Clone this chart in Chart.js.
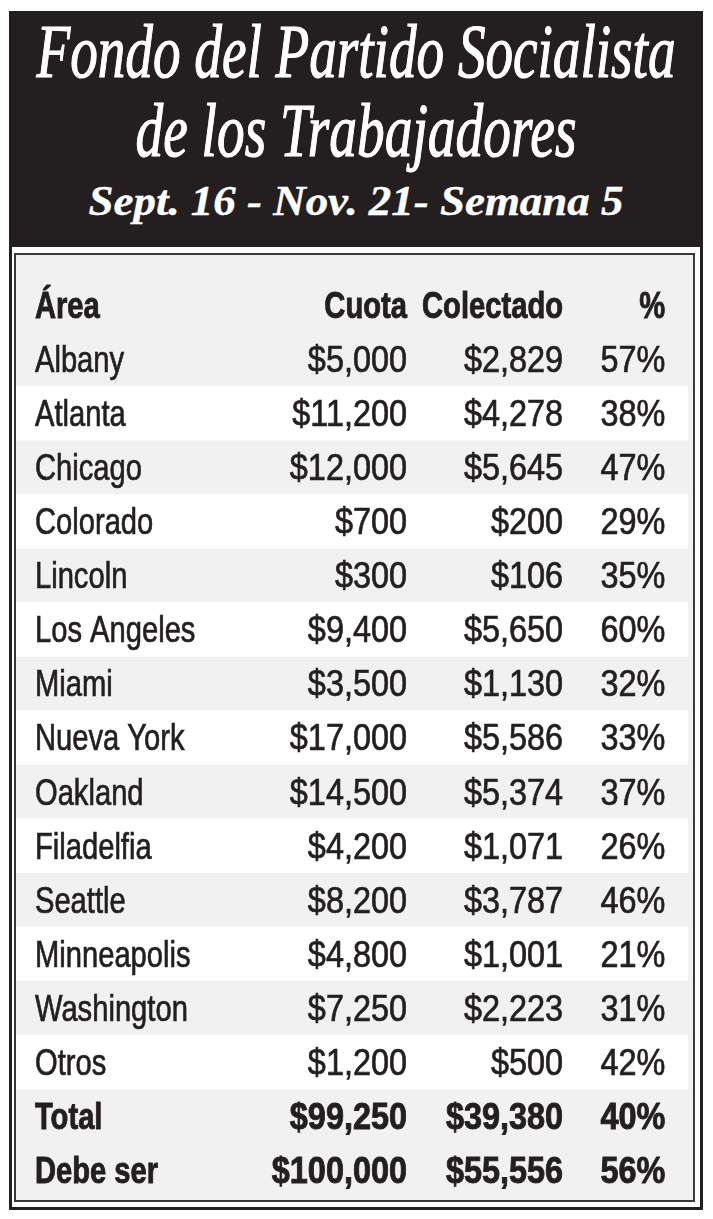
<!DOCTYPE html>
<html>
<head>
<meta charset="utf-8">
<script src="https://cdn.jsdelivr.net/npm/chart.js"></script>
<style>
  html, body { margin: 0; padding: 0; background: #fff; }
  #page { position: relative; width: 713px; height: 1219px; overflow: hidden; }
  #frame {
    position: absolute; left: 9px; top: 11px; width: 688px; height: 1196px;
    border: 3px solid #231f20; border-top: 0; background: #fff;
  }
  #header {
    position: absolute; left: 9px; top: 11px; width: 694px; height: 236px;
    background: #231f20; color: #fff;
  }
  .line {
    position: absolute; left: 50%; white-space: nowrap; line-height: 1;
    font-family: "Liberation Serif", "DejaVu Serif", serif; font-style: italic;
    transform-origin: 50% 50%; -webkit-text-stroke: 1.2px #fff;
  }
  #panel {
    position: absolute; left: 14px; top: 253px; width: 677px; height: 945px;
    border: 2px solid #3a3a3a; background: #f1f1f2;
  }
  #panel canvas { position: absolute; left: 0; top: 0; }
</style>
</head>
<body>
<div id="page">
  <div id="frame"></div>
  <div id="header">
    <div class="line" style="font-size:77px; top:2px;" data-w="639">Fondo del Partido Socialista</div>
    <div class="line" style="font-size:77px; top:81px;" data-w="441">de los Trabajadores</div>
    <div class="line" style="font-size:43px; top:168px; font-weight:bold; -webkit-text-stroke:0.4px #fff;" data-w="535">Sept. 16 - Nov. 21- Semana 5</div>
  </div>
  <div id="panel"><canvas id="myChart" width="677" height="945"></canvas></div>
</div>
<script>
// Table data
const headers = ['Área', 'Cuota', 'Colectado', '%'];
const areas = ['Albany', 'Atlanta', 'Chicago', 'Colorado', 'Lincoln', 'Los Angeles', 'Miami',
  'Nueva York', 'Oakland', 'Filadelfia', 'Seattle', 'Minneapolis', 'Washington', 'Otros'];
const cuota = [5000, 11200, 12000, 700, 300, 9400, 3500, 17000, 14500, 4200, 8200, 4800, 7250, 1200];
const colectado = [2829, 4278, 5645, 200, 106, 5650, 1130, 5586, 5374, 1071, 3787, 1001, 2223, 500];
const pct = [57, 38, 47, 29, 35, 60, 32, 33, 37, 26, 46, 21, 31, 42];
const summaryLabels = ['Total', 'Debe ser'];
const summaryCuota = [99250, 100000];
const summaryColectado = [39380, 55556];
const summaryPct = [40, 56];

// Squeeze the title lines to the condensed width of the original
document.querySelectorAll('.line').forEach(function(el) {
  const w = el.getBoundingClientRect().width;
  el.style.transform = 'translateX(-50%) scaleX(' + (parseFloat(el.dataset.w) / w) + ')';
});

const FONT = '"Liberation Sans", Arial, sans-serif';
const SIZE = 36;

const rowLabels = [headers[0]].concat(areas, summaryLabels);
const money = n => '$' + n.toLocaleString('en-US');

// text per column, one entry per row
const colText = [
  rowLabels,
  [headers[1]].concat(cuota.map(money), summaryCuota.map(money)),
  [headers[2]].concat(colectado.map(money), summaryColectado.map(money)),
  [headers[3]].concat(pct.map(p => p + '%'), summaryPct.map(p => p + '%'))
];
const isBold = i => i === 0 || i > areas.length;
// column anchors in x-scale units (0..100): left edge of first column, right edges of the rest
const colAnchor = [2.8, 57.75, 80.8, 95.9];
const stripeEnd = 99.25;

// white stripes on every other area row
const stripes = rowLabels.map((l, i) => (i > 0 && i <= areas.length && i % 2 === 0) ? [0, stripeEnd] : null);

const columnsPlugin = {
  id: 'columns',
  afterDatasetsDraw(chart) {
    const ctx = chart.ctx;
    const x = chart.scales.x, y = chart.scales.y;
    ctx.save();
    ctx.fillStyle = '#231f20';
    ctx.strokeStyle = '#231f20';
    ctx.textBaseline = 'alphabetic';
    colText.forEach(function(col, c) {
      col.forEach(function(txt, i) {
        // condensed look: squeeze letters more than figures
        const sx = (c === 0 || i === 0) ? 0.81 : 0.9;
        const px = x.getPixelForValue(colAnchor[c]);
        const py = y.getPixelForValue(i) + 0.36 * SIZE;
        ctx.save();
        ctx.translate(px, py);
        ctx.scale(sx, 1);
        ctx.font = (isBold(i) ? 'bold ' : '') + SIZE + 'px ' + FONT;
        ctx.textAlign = c === 0 ? 'left' : 'right';
        ctx.lineWidth = isBold(i) ? 0.9 : 0.7;
        ctx.fillText(txt, 0, 0);
        ctx.strokeText(txt, 0, 0);
        ctx.restore();
      });
    });
    ctx.restore();
  }
};

const myChart = new Chart(document.getElementById('myChart').getContext('2d'), {
  type: 'bar',
  data: {
    labels: rowLabels,
    datasets: [{
      data: stripes,
      backgroundColor: '#ffffff',
      borderWidth: 0,
      barPercentage: 1,
      categoryPercentage: 1
    }]
  },
  options: {
    indexAxis: 'y',
    responsive: false,
    animation: false,
    layout: { padding: { top: 23, bottom: 3, left: 0, right: 0 } },
    plugins: { legend: { display: false }, tooltip: { enabled: false }, title: { display: false } },
    scales: {
      x: { type: 'linear', min: 0, max: 100, display: false },
      y: { type: 'category', offset: true, display: false }
    }
  },
  plugins: [columnsPlugin]
});
</script>
</body>
</html>
